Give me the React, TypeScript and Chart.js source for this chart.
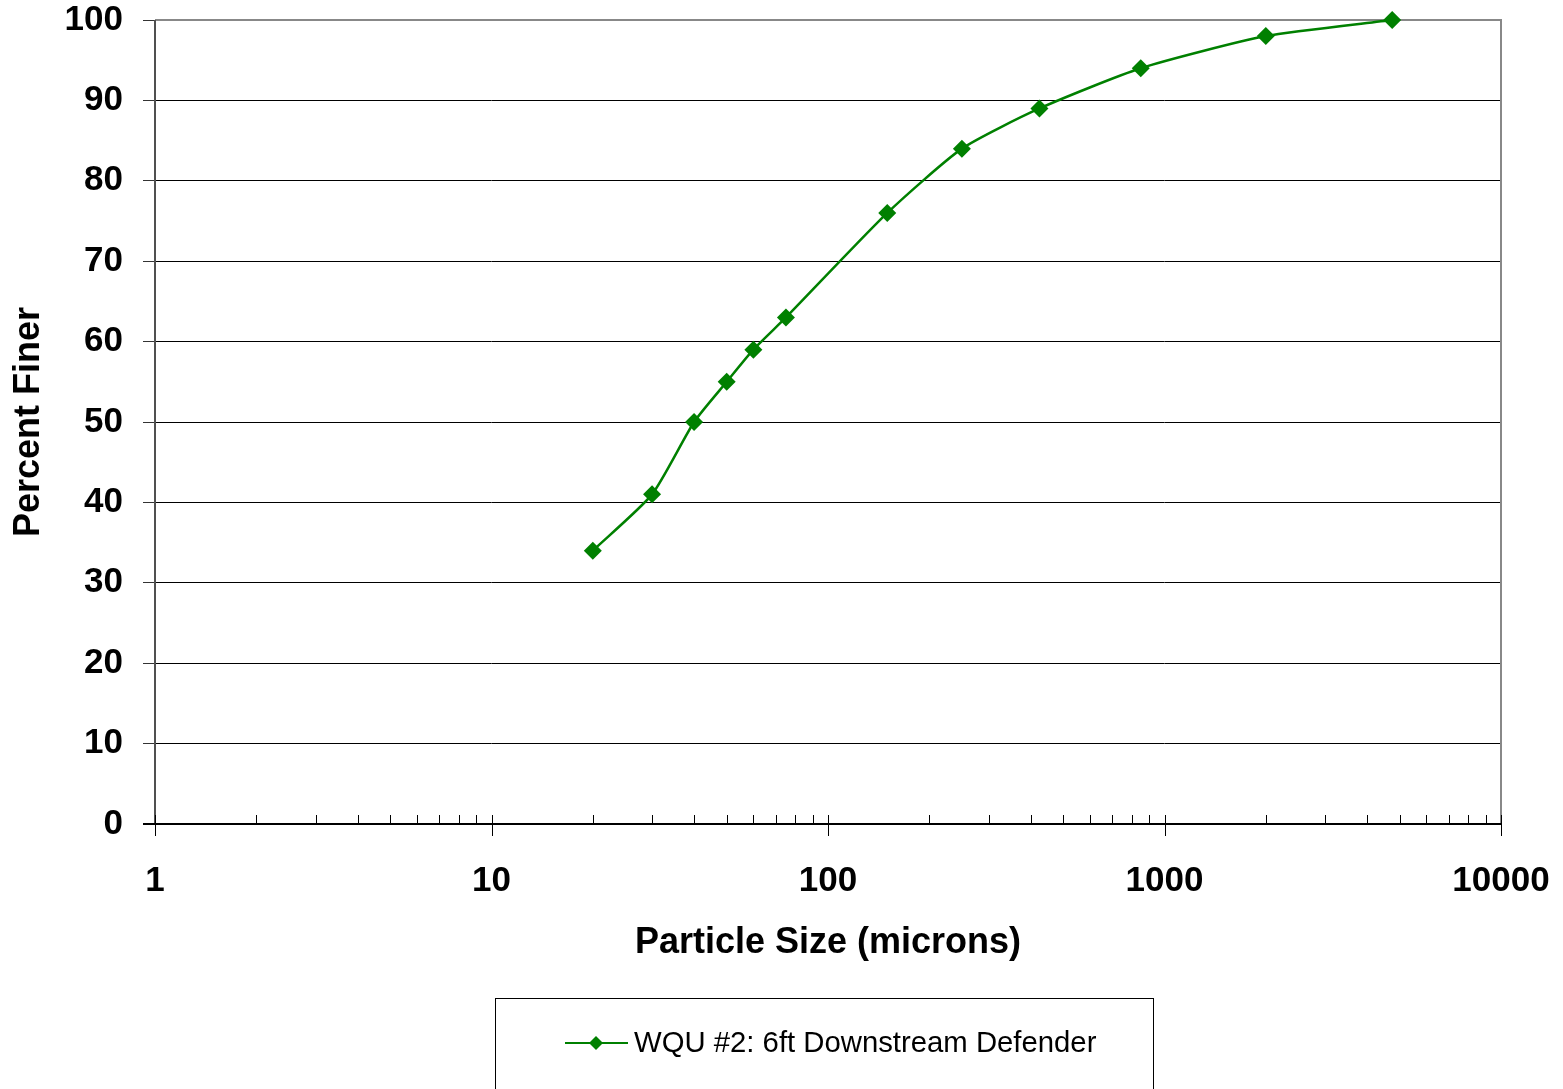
import React, { useEffect, useRef } from "react";
import { Chart, registerables } from "chart.js";

Chart.register(...registerables);

const particleSizes = [20, 30, 40, 50, 60, 75, 150, 250, 425, 850, 2000, 4750];
const percentFiner = [34, 41, 50, 55, 59, 63, 76, 84, 89, 94, 98, 100];
const xTickValues = [1, 10, 100, 1000, 10000];
const seriesLabel = "WQU #2: 6ft Downstream Defender";
const xTitle = "Particle Size (microns)";
const yTitle = "Percent Finer";

const GREEN = "#008000";
const FONT = "'Liberation Sans', Arial, sans-serif";

const zeroPad = (s: any) => {
  s.paddingTop = 0;
  s.paddingBottom = 0;
  s.paddingLeft = 0;
  s.paddingRight = 0;
};

const framePlugin = {
  id: "frame",
  beforeDatasetsDraw(chart: any) {
    const { ctx, chartArea: a, scales } = chart;
    const xs = scales.x;
    ctx.save();
    ctx.strokeStyle = "#888888";
    ctx.lineWidth = 2;
    ctx.beginPath();
    ctx.moveTo(a.left, a.top);
    ctx.lineTo(a.right, a.top);
    ctx.lineTo(a.right, a.bottom);
    ctx.stroke();
    ctx.strokeStyle = "#505050";
    ctx.beginPath();
    ctx.moveTo(a.left, a.top);
    ctx.lineTo(a.left, a.bottom);
    ctx.stroke();
    ctx.strokeStyle = "#000000";
    ctx.beginPath();
    ctx.moveTo(a.left - 12, a.bottom);
    ctx.lineTo(a.right, a.bottom);
    ctx.stroke();
    ctx.lineWidth = 1;
    ctx.strokeStyle = "#000000";
    for (let e = 0; e < 4; e++) {
      for (let m = 1; m <= 10; m++) {
        const v = m * Math.pow(10, e);
        const px = Math.round(xs.getPixelForValue(v)) + 0.5;
        ctx.beginPath();
        ctx.moveTo(px, a.bottom - 9);
        ctx.lineTo(px, a.bottom);
        ctx.stroke();
        if (m === 1 || m === 10) {
          ctx.beginPath();
          ctx.moveTo(px, a.bottom);
          ctx.lineTo(px, a.bottom + 12);
          ctx.stroke();
        }
      }
    }
    ctx.restore();
  },
  afterDraw(chart: any) {
    const { ctx } = chart;
    ctx.save();
    ctx.strokeStyle = "#000000";
    ctx.lineWidth = 1;
    ctx.strokeRect(495.5, 998.5, 658, 120);
    const ly = 1043;
    ctx.strokeStyle = GREEN;
    ctx.lineWidth = 2;
    ctx.beginPath();
    ctx.moveTo(565, ly);
    ctx.lineTo(628, ly);
    ctx.stroke();
    ctx.fillStyle = GREEN;
    ctx.beginPath();
    ctx.moveTo(596, ly - 7);
    ctx.lineTo(603, ly);
    ctx.lineTo(596, ly + 7);
    ctx.lineTo(589, ly);
    ctx.closePath();
    ctx.fill();
    ctx.fillStyle = "#000000";
    ctx.font = `29.3px ${FONT}`;
    ctx.textBaseline = "middle";
    ctx.textAlign = "left";
    ctx.fillText(seriesLabel, 634, ly + 1);
    ctx.restore();
  },
};

export default function App() {
  const ref = useRef<HTMLCanvasElement>(null);
  useEffect(() => {
    if (!ref.current) return;
    const chart = new Chart(ref.current, {
      type: "line",
      data: {
        datasets: [
          {
            label: seriesLabel,
            data: particleSizes.map((x, i) => ({ x, y: percentFiner[i] })),
            borderColor: GREEN,
            backgroundColor: GREEN,
            borderWidth: 2.5,
            pointStyle: "rectRot",
            pointRadius: 9,
            pointHoverRadius: 9,
            pointBorderWidth: 0,
            tension: 0.2,
            clip: false,
          } as any,
        ],
      },
      options: {
        animation: false,
        responsive: true,
        maintainAspectRatio: false,
        layout: { padding: { top: 20, right: 62, left: 0, bottom: 0 } },
        plugins: { legend: { display: false }, tooltip: { enabled: false } },
        scales: {
          x: {
            type: "logarithmic",
            min: 1,
            max: 10000,
            afterBuildTicks: (s: any) => {
              s.ticks = xTickValues.map((v) => ({ value: v }));
            },
            afterFit: (s: any) => {
              s.height = 265;
              zeroPad(s);
            },
            grid: { display: false, drawTicks: false },
            border: { display: false },
            ticks: {
              autoSkip: false,
              maxRotation: 0,
              padding: 36,
              color: "#000",
              font: { family: FONT, size: 35, weight: "bold" },
              callback: (v: any) => String(v),
            },
            title: {
              display: true,
              text: xTitle,
              color: "#000",
              font: { family: FONT, size: 36, weight: "bold" },
              padding: { top: 0, bottom: 124 },
            },
          },
          y: {
            type: "linear",
            min: 0,
            max: 100,
            afterFit: (s: any) => {
              s.width = 155;
              zeroPad(s);
            },
            grid: { color: "#000", lineWidth: 1, tickLength: 12, tickColor: "#333" },
            border: { display: false },
            ticks: {
              stepSize: 10,
              padding: 20,
              color: "#000",
              font: { family: FONT, size: 35, weight: "bold" },
            },
            title: {
              display: true,
              text: yTitle,
              color: "#000",
              font: { family: FONT, size: 36, weight: "bold" },
              padding: { top: 7, bottom: 0 },
            },
          },
        },
      },
      plugins: [framePlugin],
    });
    return () => chart.destroy();
  }, []);
  return (
    <div style={{ position: "absolute", left: 0, top: 0, width: 1563, height: 1089, background: "#fff" }}>
      <canvas ref={ref} />
    </div>
  );
}
